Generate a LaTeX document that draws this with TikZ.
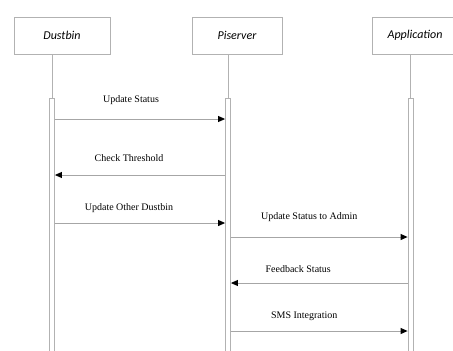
\documentclass[tikz,border=0pt]{standalone}
\usepackage{fontspec}
\setmainfont{Liberation Serif}
\newfontfamily\boxfont{Carlito}
\usetikzlibrary{arrows.meta,positioning}

\tikzset{
  actor/.style={draw=gray!60, line width=0.9pt, minimum height=37pt, inner sep=0pt,
    font=\boxfont\itshape\fontsize{12}{14}\selectfont},
  life/.style={draw=gray!60, line width=0.8pt},
  bar/.style={draw=gray!60, line width=0.8pt, fill=white, minimum width=5pt,
    minimum height=262pt, inner sep=0pt, anchor=north},
  msg/.style={draw=gray!70, line width=0.9pt, -{Triangle[length=7pt,width=6pt,color=black]}},
  lbl/.style={font=\fontsize{10}{12}\selectfont, inner sep=0pt}
}

\begin{document}
\begin{tikzpicture}[x=1pt, y=-1pt, on grid]
\useasboundingbox (0,0) rectangle (453,351);

% participants
\node[actor, minimum width=96pt] (dustbin) at (62,35.5) {Dustbin};
\node[actor, minimum width=90pt] (piserver) [right=175pt of dustbin] {Piserver};
\node[actor, minimum width=86pt] (app) [right=178pt of piserver] {Application};

% activation bars
\node[bar] (bard) at (52,98) {};
\node[bar] (barp) at (228,98) {};
\node[bar] (bara) at (410.5,98) {};

\draw[life] (dustbin.south -| bard) -- (bard.north);
\draw[life] (piserver.south -| barp) -- (barp.north);
\draw[life] (app.south -| bara) -- (bara.north);

% message heights
\coordinate (m1) at (0,119);
\coordinate (m2) at (0,175);
\coordinate (m3) at (0,223);
\coordinate (m4) at (0,237);
\coordinate (m5) at (0,283);
\coordinate (m6) at (0,331);

\draw[msg] (bard.east |- m1) -- node[lbl, above=14pt, xshift=-9pt] {Update Status} (barp.west |- m1);
\draw[msg] (barp.west |- m2) -- node[lbl, above=13pt, xshift=-11pt] {Check Threshold} (bard.east |- m2);
\draw[msg] (bard.east |- m3) -- node[lbl, above=10pt, xshift=-11pt] {Update Other Dustbin} (barp.west |- m3);
\draw[msg] (barp.east |- m4) -- node[lbl, above=15pt, xshift=-10pt] {Update Status to Admin} (bara.west |- m4);
\draw[msg] (bara.west |- m5) -- node[lbl, above=10pt, xshift=-21pt] {Feedback Status} (barp.east |- m5);
\draw[msg] (barp.east |- m6) -- node[lbl, above=10pt, xshift=-15pt] {SMS Integration} (bara.west |- m6);
\end{tikzpicture}
\end{document}
